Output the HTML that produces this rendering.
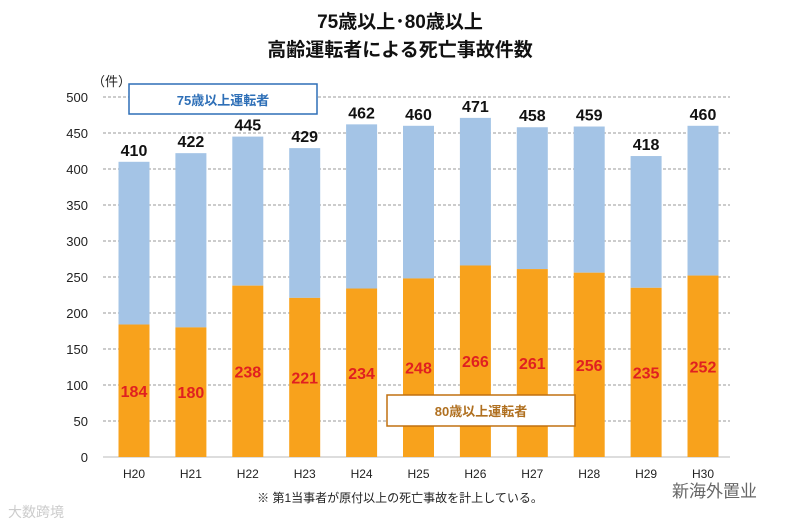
<!DOCTYPE html>
<html><head><meta charset="utf-8"><style>
body{margin:0;background:#fff;width:799px;height:523px;overflow:hidden;font-family:"Liberation Sans","Noto Sans CJK JP",sans-serif}
</style></head><body>
<svg id="c" width="799" height="523" xmlns="http://www.w3.org/2000/svg" style="font-family:'Liberation Sans','Noto Sans CJK JP',sans-serif">
<text x="400" y="28" text-anchor="middle" font-size="19" font-weight="bold" fill="#111">75歳以上･80歳以上</text>
<text x="400" y="56" text-anchor="middle" font-size="19" font-weight="bold" fill="#111">高齢運転者による死亡事故件数</text>
<text x="92" y="86" font-size="13" fill="#222">（件）</text>
<g id="grid"></g><g id="bars"></g>
<rect x="129" y="84" width="188" height="30" fill="#fff" stroke="#2e6fb7" stroke-width="1.5"/>
<text x="223" y="105" text-anchor="middle" font-size="13" font-weight="bold" fill="#2e6fb7">75歳以上運転者</text>
<rect x="387" y="395" width="188" height="31" fill="#fff" stroke="#c07010" stroke-width="1.5"/>
<text x="481" y="416" text-anchor="middle" font-size="13" font-weight="bold" fill="#b07020">80歳以上運転者</text>
<text x="400" y="502" text-anchor="middle" font-size="12" fill="#222">※ 第1当事者が原付以上の死亡事故を計上している。</text>
<text x="8" y="517" font-size="14" fill="#ccc">大数跨境</text>
<text x="672" y="497" font-size="17" fill="#666">新海外置业</text>
</svg>
<script>
const categories=["H20","H21","H22","H23","H24","H25","H26","H27","H28","H29","H30"];
const totals=[410,422,445,429,462,460,471,458,459,418,460];
const over80=[184,180,238,221,234,248,266,261,256,235,252];
const yTicks=[0,50,100,150,200,250,300,350,400,450,500];
const NS="http://www.w3.org/2000/svg";
const y0=457,y1=97,x0=103,x1=730,c0=134,step=56.9,bw=31;
const y=v=>y0-(v/500)*(y0-y1);
const x=i=>c0+i*step;
function mk(t,a,p){const e=document.createElementNS(NS,t);for(const k in a)e.setAttribute(k,a[k]);p.appendChild(e);return e;}
const g=document.getElementById('grid'),b=document.getElementById('bars');
yTicks.forEach(v=>{
 const l=mk('line',{x1:x0,x2:x1,y1:y(v),y2:y(v),stroke:v?'#999':'#bbb','stroke-dasharray':v?'3,2':'none'},g);
 
 
 const t=mk('text',{x:88,y:y(v)+5,'text-anchor':'end','font-size':13,fill:'#222'},g);t.textContent=v;
 
 
});
categories.forEach((c,i)=>{
 const r1=mk('rect',{x:x(i)-bw/2,y:y(totals[i]),width:bw,height:y(over80[i])-y(totals[i]),fill:'#a4c4e6'},b);
 
 
 const r2=mk('rect',{x:x(i)-bw/2,y:y(over80[i]),width:bw,height:y0-y(over80[i]),fill:'#f8a21c'},b);
 
 
 const t1=mk('text',{x:x(i),y:y(totals[i])-6,'text-anchor':'middle','font-size':16,'font-weight':'bold',fill:'#111'},b);t1.textContent=totals[i];
 
 
 const t2=mk('text',{x:x(i),y:y(over80[i]/2)+6,'text-anchor':'middle','font-size':16,'font-weight':'bold',fill:'#e02020'},b);t2.textContent=over80[i];
 
 
 const t3=mk('text',{x:x(i),y:478,'text-anchor':'middle','font-size':12,fill:'#222'},b);t3.textContent=c;
 
 
});
</script>
</body></html>
